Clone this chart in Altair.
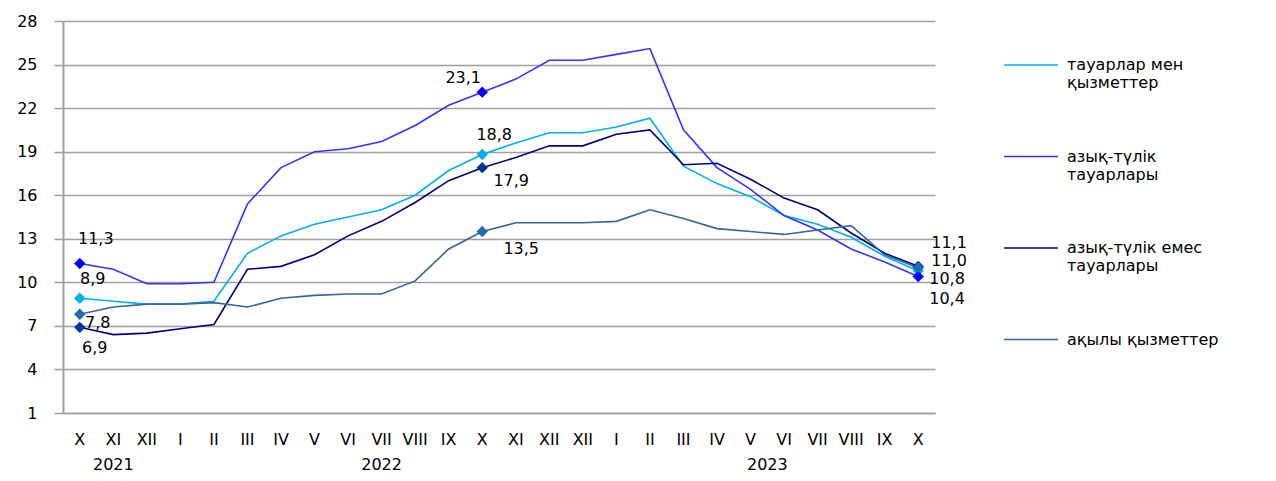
import altair as alt
import pandas as pd

months = ["X", "XI", "XII", "I", "II", "III", "IV", "V", "VI", "VII", "VIII", "IX", "X",
          "XI", "XII", "XII", "I", "II", "III", "IV", "V", "VI", "VII", "VIII", "IX", "X"]
years = ["2021"] * 3 + ["2022"] * 13 + ["2023"] * 10

series_lines = [["тауарлар мен", "қызметтер"],
                ["азық-түлік", "тауарлары"],
                ["азық-түлік емес", "тауарлары"],
                ["ақылы қызметтер"]]
series_names = [" ".join(s) for s in series_lines]

total = [8.9, 8.7, 8.5, 8.5, 8.7, 12.0, 13.2, 14.0, 14.5, 15.0, 16.0, 17.7, 18.8,
         19.6, 20.3, 20.3, 20.7, 21.3, 18.0, 16.8, 15.9, 14.6, 14.0, 13.1, 11.8, 10.8]
food = [11.3, 10.9, 9.9, 9.9, 10.0, 15.4, 17.9, 19.0, 19.2, 19.7, 20.8, 22.2, 23.1,
        24.0, 25.3, 25.3, 25.7, 26.1, 20.5, 17.9, 16.4, 14.6, 13.6, 12.3, 11.4, 10.4]
nonfood = [6.9, 6.4, 6.5, 6.8, 7.1, 10.9, 11.1, 11.9, 13.2, 14.2, 15.5, 17.0, 17.9,
           18.6, 19.4, 19.4, 20.2, 20.5, 18.1, 18.2, 17.1, 15.8, 15.0, 13.4, 12.0, 11.1]
services = [7.8, 8.3, 8.5, 8.5, 8.6, 8.3, 8.9, 9.1, 9.2, 9.2, 10.1, 12.3, 13.5,
            14.1, 14.1, 14.1, 14.2, 15.0, 14.4, 13.7, 13.5, 13.3, 13.6, 13.9, 11.9, 11.0]
all_values = [total, food, nonfood, services]

marker_idx = [0, 12, 25]
y_ticks = [1, 4, 7, 10, 13, 16, 19, 22, 25, 28]

line_colors = ["#00B0F0", "#3333FF", "#000080", "#336699"]
marker_colors = ["#00B0F0", "#0000FF", "#003399", "#1F6CB5"]

# label offsets (dx, dy, align) per series per marker index
label_offsets = {
    0: {0: (13, -19, "center"), 12: (12, -20, "center"), 25: (11, 8, "left")},
    1: {0: (16, -24, "center"), 12: (-19, -14, "center"), 25: (11, 22, "left")},
    2: {0: (15, 21, "center"), 12: (29, 13, "center"), 25: (13, -23, "left")},
    3: {0: (18, 9, "center"), 12: (39, 17, "center"), 25: (13, -7, "left")},
}

rows = []
for s, name in enumerate(series_names):
    for i, v in enumerate(all_values[s]):
        rows.append({"idx": i, "month": months[i], "year": years[i],
                     "series": name, "sid": s, "value": v,
                     "label": f"{v:.1f}".replace(".", ",")})
df = pd.DataFrame(rows)

W, H = 872, 392
FONT = "DejaVu Sans"

names_arr = "[" + ",".join(f"'{n}'" for n in series_names) + "]"
lines_arr = "[" + ",".join("[" + ",".join(f"'{p}'" for p in s) + "]" for s in series_lines) + "]"

x_scale = alt.Scale(domain=[-0.5, len(months) - 0.5], nice=False, zero=False)
y_scale = alt.Scale(domain=[1, 28], nice=False, zero=False)

x_enc = alt.X("idx:Q", scale=x_scale,
              axis=alt.Axis(values=list(range(len(months))), labels=False,
                            title=None, grid=False, ticks=False, domain=True,
                            domainColor="#9e9e9e", domainWidth=1.5))
y_enc = alt.Y("value:Q", scale=y_scale,
              axis=alt.Axis(values=y_ticks, title=None, grid=True, gridColor="#9e9e9e",
                            gridWidth=1.5, domain=True, domainColor="#9e9e9e", domainWidth=2,
                            ticks=True, tickColor="#9e9e9e", tickSize=9, tickWidth=1.5,
                            labelPadding=17, labelFont=FONT, labelFontSize=16,
                            labelColor="#000000"))

base = alt.Chart(df)

lines = base.mark_line(strokeWidth=1.6).encode(
    x=x_enc, y=y_enc,
    stroke=alt.Stroke("series:N",
                      scale=alt.Scale(domain=series_names, range=line_colors),
                      legend=alt.Legend(title=None, orient="none", legendX=940, legendY=16,
                                        symbolType="stroke", symbolSize=2916,
                                        symbolStrokeWidth=1.6, labelFont=FONT,
                                        labelFontSize=16, labelColor="#000000",
                                        labelLimit=320, labelOffset=8, rowPadding=37.5,
                                        labelBaseline="middle", padding=0,
                                        labelExpr=f"{lines_arr}[indexof({names_arr}, datum.label)]")),
    detail="series:N",
)

markers = base.transform_filter(
    alt.FieldOneOfPredicate(field="idx", oneOf=marker_idx)
).mark_point(shape="diamond", filled=True, size=130, opacity=1).encode(
    x="idx:Q", y="value:Q",
    fill=alt.Fill("series:N", scale=alt.Scale(domain=series_names, range=marker_colors),
                  legend=None),
)

layers = [lines, markers]
for s, offs in label_offsets.items():
    for i, (dx, dy, al) in offs.items():
        layers.append(
            base.transform_filter((alt.datum.sid == s) & (alt.datum.idx == i))
            .mark_text(dx=dx, dy=dy, align=al, baseline="middle", font=FONT,
                       fontSize=16, color="#000000")
            .encode(x="idx:Q", y="value:Q", text="label:N")
        )

month_layer = base.transform_filter(alt.datum.sid == 0).mark_text(
    baseline="middle", align="center", font=FONT, fontSize=16, color="#000000"
).encode(x="idx:Q", y=alt.value(H + 27), text="month:N")
layers.append(month_layer)

year_layer = base.transform_filter(alt.datum.sid == 0).transform_aggregate(
    center="mean(idx)", groupby=["year"]
).mark_text(baseline="middle", align="center", font=FONT, fontSize=16, color="#000000").encode(
    x="center:Q", y=alt.value(H + 52), text="year:N"
)
layers.append(year_layer)

chart = alt.layer(*layers).properties(
    width=W, height=H,
    background="white",
    autosize=alt.AutoSizeParams(type="none"),
    padding={"left": 55, "top": 13, "right": 333, "bottom": 60},
).configure_view(stroke=None)

chart.save("out.html", embed_options={"renderer": "svg", "actions": False})
